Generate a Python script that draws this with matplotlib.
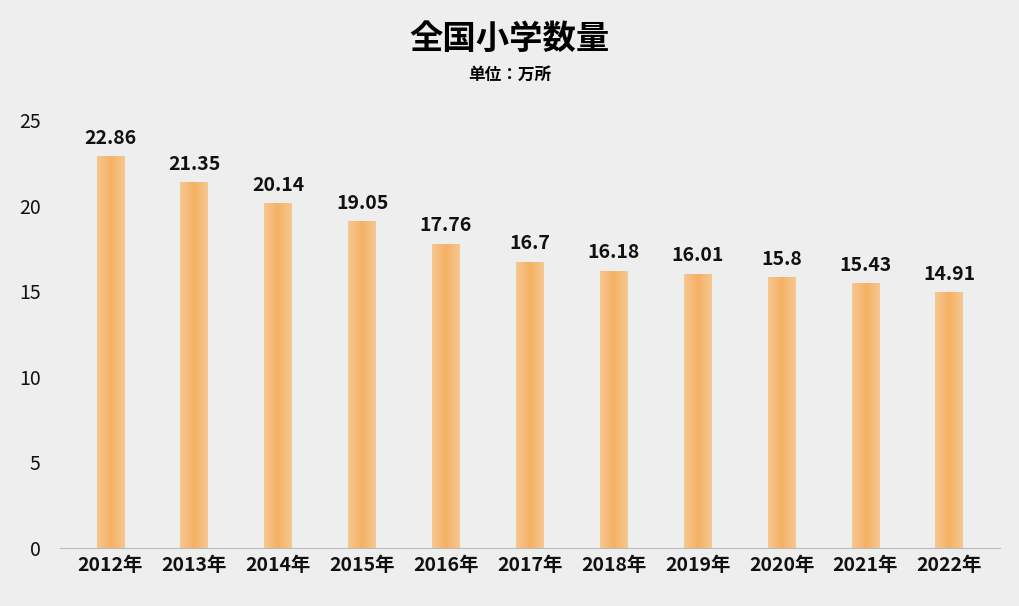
import matplotlib
matplotlib.use("Agg")
import matplotlib.pyplot as plt
from matplotlib import font_manager as fm
import numpy as np
from matplotlib.colors import LinearSegmentedColormap

cjk = None
for f in fm.findSystemFonts():
    if "CJK" in f and ("Bold" in f or cjk is None):
        fm.fontManager.addfont(f)
        cjk = f
names = [f.name for f in fm.fontManager.ttflist if "CJK" in f.name]
fam = "Noto Sans CJK SC" if "Noto Sans CJK SC" in names else (names[0] if names else "DejaVu Sans")
plt.rcParams['font.family'] = [fam, "DejaVu Sans"]

years = ["2012年", "2013年", "2014年", "2015年", "2016年", "2017年", "2018年", "2019年", "2020年", "2021年", "2022年"]
values = [22.86, 21.35, 20.14, 19.05, 17.76, 16.7, 16.18, 16.01, 15.8, 15.43, 14.91]
labels = ["22.86", "21.35", "20.14", "19.05", "17.76", "16.7", "16.18", "16.01", "15.8", "15.43", "14.91"]

bg = "#eeeeee"
fig = plt.figure(figsize=(10.19, 6.06), dpi=100, facecolor=bg)
ax = fig.add_axes([0.059, 0.096, 0.922, 0.706], facecolor=bg)

cmap = LinearSegmentedColormap.from_list("o", ["#f6c88f", "#f5b165", "#f6c88f"])
grad = np.linspace(0, 1, 64).reshape(1, -1)
w = 0.33
x = np.arange(len(years))
ax.bar(x, values, width=w, color="none")
for xi, v, lab in zip(x, values, labels):
    ax.imshow(grad, cmap=cmap, aspect="auto", extent=(xi - w/2, xi + w/2, 0, v), zorder=2)
    ax.text(xi, v + 0.5, lab, ha="center", va="bottom", fontsize=14, fontweight="bold", color="#111111")

ax.set_xlim(-0.6, len(years) - 0.4)
ax.set_ylim(0, 25)
ax.set_yticks([0, 5, 10, 15, 20, 25])
ax.set_xticks(x)
ax.set_xticklabels(years, fontsize=14, fontweight="bold", color="#111111")
ax.tick_params(axis="y", labelsize=14, length=0, pad=14, labelcolor="#111111")
ax.tick_params(axis="x", length=0, pad=6)
for s in ["left", "right", "top"]:
    ax.spines[s].set_visible(False)
ax.spines["bottom"].set_color("#bbbbbb")

fig.text(0.5, 0.935, "全国小学数量", ha="center", va="center", fontsize=24, fontweight="bold")
fig.text(0.5, 0.877, "单位：万所", ha="center", va="center", fontsize=12, fontweight="bold")

fig.savefig("out.png", dpi=100, facecolor=bg)
